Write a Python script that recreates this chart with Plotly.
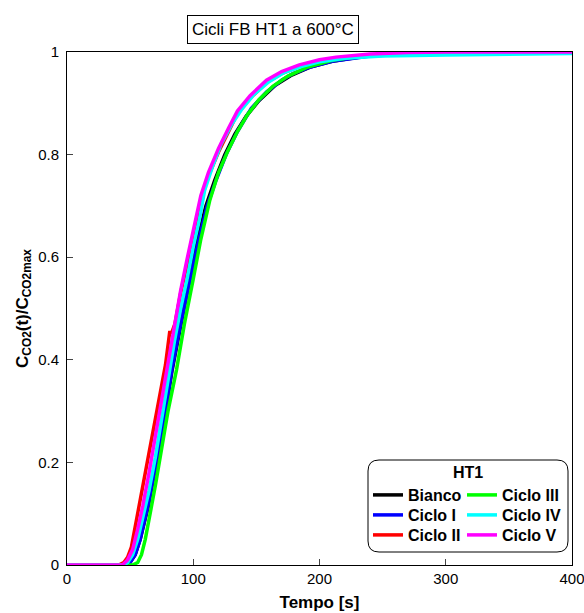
import plotly.graph_objects as go

# ---- data ----
t_bianco = [0, 30, 46, 50, 54, 58, 62, 64.3, 70, 74, 78, 83.3, 90, 97, 104, 110, 117, 125, 133, 142, 152, 165, 178, 192, 210, 240, 280, 320, 400]
y_bianco = [0, 0, 0, 0.005, 0.02, 0.05, 0.09, 0.114, 0.19, 0.244, 0.30, 0.38, 0.47, 0.556, 0.64, 0.70, 0.75, 0.80, 0.84, 0.875, 0.905, 0.935, 0.955, 0.97, 0.982, 0.993, 0.998, 1.0, 1.0]

t_c1 = [0, 30, 46, 50, 54, 58, 62, 64, 70, 74, 78, 83, 90, 97, 104, 111, 118, 126, 135, 146, 158, 170, 179, 192, 210, 240, 280, 330, 400]
y_c1 = [0, 0, 0, 0.005, 0.02, 0.05, 0.09, 0.114, 0.19, 0.244, 0.30, 0.38, 0.47, 0.55, 0.63, 0.70, 0.75, 0.80, 0.845, 0.89, 0.922, 0.945, 0.958, 0.97, 0.982, 0.992, 0.997, 1.0, 1.0]

t_c2 = [0, 30, 41, 45, 48, 51, 54, 57.5, 62, 67, 72, 78, 81.3, 83, 85.5, 90, 95, 100, 106, 112, 120, 128, 135, 145, 158, 170, 184, 200, 220, 250, 300, 350, 400]
y_c2 = [0, 0, 0, 0.005, 0.015, 0.035, 0.075, 0.12, 0.175, 0.25, 0.31, 0.39, 0.453, 0.453, 0.47, 0.53, 0.585, 0.645, 0.71, 0.758, 0.805, 0.845, 0.88, 0.91, 0.94, 0.958, 0.972, 0.983, 0.99, 0.996, 0.999, 1.0, 1.0]

t_c3 = [0, 30, 52, 56, 59, 62, 64, 66.9, 70, 76.1, 80, 86.7, 93, 99.9, 106, 113, 120, 127, 135, 143, 152, 163, 175, 190, 210, 240, 280, 400]
y_c3 = [0, 0, 0, 0.005, 0.02, 0.05, 0.08, 0.114, 0.155, 0.244, 0.30, 0.38, 0.47, 0.556, 0.635, 0.71, 0.765, 0.805, 0.845, 0.878, 0.907, 0.933, 0.953, 0.97, 0.984, 0.994, 0.999, 1.0]

t_c4 = [0, 30, 45, 48, 52, 56, 60, 62.5, 65, 70, 72.2, 75, 81, 85, 90, 95, 100, 105, 109, 115, 122, 130, 138, 148, 160, 172, 186, 200, 220, 250, 300, 350, 400]
y_c4 = [0, 0, 0, 0.005, 0.02, 0.05, 0.09, 0.114, 0.145, 0.21, 0.244, 0.28, 0.38, 0.435, 0.50, 0.556, 0.62, 0.675, 0.73, 0.775, 0.82, 0.857, 0.887, 0.917, 0.942, 0.96, 0.972, 0.981, 0.988, 0.992, 0.994, 0.995, 0.997]

t_c5 = [0, 30, 44, 48, 52, 56, 60, 65, 70, 75, 80, 83, 86, 90, 95, 100, 106, 112, 120, 128, 135, 145, 158, 170, 184, 200, 213, 240, 270, 300, 400]
y_c5 = [0, 0, 0, 0.01, 0.03, 0.07, 0.115, 0.18, 0.25, 0.32, 0.395, 0.44, 0.48, 0.535, 0.595, 0.655, 0.72, 0.765, 0.812, 0.852, 0.885, 0.915, 0.945, 0.962, 0.975, 0.985, 0.99, 0.996, 0.999, 1.0, 1.0]

names = ["Bianco", "Ciclo I", "Ciclo II", "Ciclo III", "Ciclo IV", "Ciclo V"]
t_data = [t_bianco, t_c1, t_c2, t_c3, t_c4, t_c5]
y_data = [y_bianco, y_c1, y_c2, y_c3, y_c4, y_c5]
colors = ["#000000", "#0000FF", "#FF0000", "#00FF00", "#00FFFF", "#FF00FF"]

x_ticks = [0, 100, 200, 300, 400]
y_ticks = [0, 0.2, 0.4, 0.6, 0.8, 1]

FONT = "Liberation Sans, Arial, sans-serif"
W, H = 584, 613
ML, MR, MT, MB = 67, 12, 52, 48
PW, PH = W - ML - MR, H - MT - MB

def px2paper(px, py):
    return (px - ML) / PW, (H - MB - py) / PH

# legend slots (column x px, row y px) – one small legend per entry
legend_ids = ["legend", "legend2", "legend3", "legend4", "legend5", "legend6"]
slot_px = [(368, 495), (368, 515), (368, 535), (462, 495), (462, 515), (462, 535)]

fig = go.Figure()
for i in range(6):
    fig.add_trace(go.Scatter(x=t_data[i], y=y_data[i], mode="lines", name=names[i],
                             line=dict(color=colors[i], width=3.5),
                             legend=legend_ids[i]))

# rounded legend frame
bx0, by0 = px2paper(368, 552)
bx1, by1 = px2paper(568, 460)
rx, ry = 11 / PW, 11 / PH
path = (f"M {bx0+rx},{by0} L {bx1-rx},{by0} Q {bx1},{by0} {bx1},{by0+ry} "
        f"L {bx1},{by1-ry} Q {bx1},{by1} {bx1-rx},{by1} L {bx0+rx},{by1} "
        f"Q {bx0},{by1} {bx0},{by1-ry} L {bx0},{by0+ry} Q {bx0},{by0} {bx0+rx},{by0} Z")
fig.add_shape(type="path", path=path, xref="paper", yref="paper",
              line=dict(color="black", width=1), fillcolor="white", layer="below")

tx, ty = px2paper(468, 472)
fig.add_annotation(x=tx, y=ty, xref="paper", yref="paper", text="<b>HT1</b>",
                   showarrow=False, font=dict(family=FONT, size=16, color="black"),
                   xanchor="center", yanchor="middle")

ax, ay = px2paper(273, 30)
fig.add_annotation(x=ax, y=ay, xref="paper", yref="paper", text="Cicli FB HT1 a 600°C",
                   showarrow=False, font=dict(family=FONT, size=17, color="black"),
                   xanchor="center", yanchor="middle", bordercolor="black",
                   borderwidth=1, borderpad=4, bgcolor="white")

legfont = dict(family=FONT, size=16, color="black", weight="bold")
legends = {}
for lid, (sx, sy) in zip(legend_ids, slot_px):
    lx, lyy = px2paper(sx, sy)
    legends[lid] = dict(x=lx, y=lyy, xanchor="left", yanchor="middle",
                        bgcolor="rgba(0,0,0,0)", borderwidth=0, font=legfont,
                        itemwidth=30)

fig.update_layout(
    width=W, height=H,
    margin=dict(l=ML, r=MR, t=MT, b=MB, autoexpand=False),
    paper_bgcolor="white", plot_bgcolor="white",
    font=dict(family=FONT, size=15, color="black"),
    showlegend=True,
    **legends,
    xaxis=dict(range=[0, 400], tickvals=x_ticks, ticks="inside", ticklen=6,
               showline=True, linecolor="black", linewidth=1, mirror=True,
               showgrid=False, zeroline=False, ticklabeloverflow="allow",
               automargin=False,
               title=dict(text="<b>Tempo [s]</b>", font=dict(size=17), standoff=10)),
    yaxis=dict(range=[0, 1], tickvals=y_ticks, ticks="inside", ticklen=6,
               showline=True, linecolor="black", linewidth=1, mirror=True,
               showgrid=False, zeroline=False, ticklabelstandoff=4,
               automargin=False,
               title=dict(text="<b>C<sub>CO2</sub>(t)/C<sub>CO2max</sub></b>",
                          font=dict(size=17), standoff=5)),
)

fig.write_html("out.html")
